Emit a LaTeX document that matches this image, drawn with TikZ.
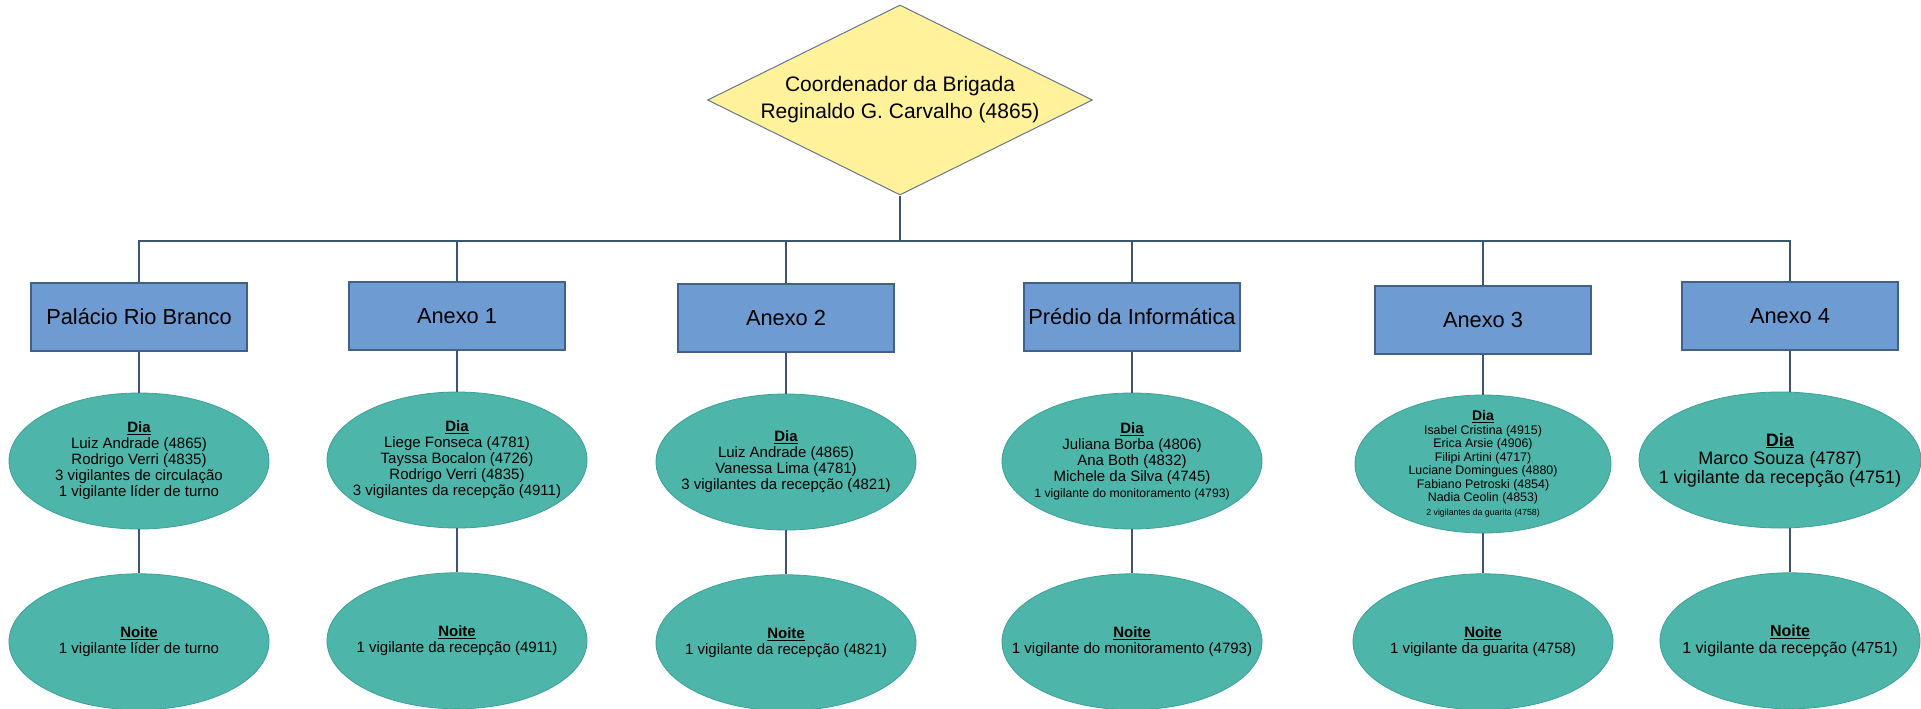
\documentclass[tikz,border=0pt]{standalone}
\usepackage{fontspec}
\setmainfont{Liberation Sans}
\usetikzlibrary{shapes.geometric,positioning}
\definecolor{amarelo}{RGB}{255,242,155}
\definecolor{azul}{RGB}{110,155,209}
\definecolor{azulborda}{RGB}{65,96,138}
\definecolor{verde}{RGB}{77,181,169}
\definecolor{verdeborda}{RGB}{62,160,150}
\definecolor{linha}{RGB}{61,85,115}
\tikzstyle{chefe} = [draw=linha!80,line width=1pt,fill=amarelo,diamond,aspect=2.03,inner sep=0,minimum width=385pt,minimum height=190pt,align=center,font=\fontsize{21}{27}\selectfont]
\tikzstyle{predio} = [draw=azulborda,line width=1.2pt,fill=azul,rectangle,inner sep=0,minimum width=216pt,minimum height=68pt,font=\fontsize{21.8}{25}\selectfont]
\tikzstyle{turno} = [draw=verdeborda,line width=0.8pt,fill=verde,ellipse,inner xsep=-60pt,inner ysep=-15pt,minimum width=260pt,minimum height=136pt,align=center,font=\fontsize{15}{16}\selectfont]
\tikzstyle{ramo} = [-,draw=linha,line width=1.2pt]
\def \tu {41pt}
\newcommand{\dia}{\underline{\textbf{Dia}}}
\newcommand{\noite}{\underline{\textbf{Noite}}}

\begin{document}
\begin{tikzpicture}[x=1pt,y=-1pt,node distance=\tu]
  \useasboundingbox (0,0) rectangle (1921,709);
  \node[chefe] (coord) at (900,100) {Coordenador da Brigada\\Reginaldo G. Carvalho (4865)};
  \coordinate (bus) at (900,241);
  % predios
  \node[predio] (pal) at (139,317) {Palácio Rio Branco};
  \node[predio] (an1) at (457,316) {Anexo 1};
  \node[predio] (an2) at (786,318) {Anexo 2};
  \node[predio] (pre) at (1132,317) {Prédio da Informática};
  \node[predio] (an3) at (1483,320) {Anexo 3};
  \node[predio] (an4) at (1790,316) {Anexo 4};
  % turnos
  \node[turno,below=of pal] (pal-dia) {\dia\\Luiz Andrade (4865)\\Rodrigo Verri (4835)\\3 vigilantes de circulação\\1 vigilante líder de turno};
  \node[turno,below=44pt of pal-dia] (pal-noite) {\noite\\1 vigilante líder de turno};
  \node[turno,below=of an1] (an1-dia) {\dia\\Liege Fonseca (4781)\\Tayssa Bocalon (4726)\\Rodrigo Verri (4835)\\3 vigilantes da recepção (4911)};
  \node[turno,below=44pt of an1-dia] (an1-noite) {\noite\\1 vigilante da recepção (4911)};
  \node[turno,below=of an2] (an2-dia) {\dia\\Luiz Andrade (4865)\\Vanessa Lima (4781)\\3 vigilantes da recepção (4821)};
  \node[turno,below=44pt of an2-dia] (an2-noite) {\noite\\1 vigilante da recepção (4821)};
  \node[turno,below=of pre] (pre-dia) {\dia\\Juliana Borba (4806)\\Ana Both (4832)\\Michele da Silva (4745)\\{\fontsize{12.2}{13}\selectfont 1 vigilante do monitoramento (4793)}};
  \node[turno,below=44pt of pre-dia] (pre-noite) {\noite\\1 vigilante do monitoramento (4793)};
  \node[turno,below=40pt of an3,minimum width=256pt,minimum height=138pt,font=\fontsize{12.4}{13.5}\selectfont] (an3-dia) {{\fontsize{14}{15}\selectfont\dia}\\Isabel Cristina (4915)\\Erica Arsie (4906)\\Filipi Artini (4717)\\Luciane Domingues (4880)\\Fabiano Petroski (4854)\\Nadia Ceolin (4853)\\{\fontsize{8.8}{9}\selectfont 2 vigilantes da guarita (4758)}};
  \node[turno,below=40pt of an3-dia] (an3-noite) {\noite\\1 vigilante da guarita (4758)};
  \node[turno,below=of an4,xshift=-10pt,minimum width=282pt,font=\fontsize{18}{18.5}\selectfont] (an4-dia) {\dia\\Marco Souza (4787)\\1 vigilante da recepção (4751)};
  \node[turno,below=44pt of an4-dia,xshift=10pt,font=\fontsize{16}{17}\selectfont] (an4-noite) {\noite\\1 vigilante da recepção (4751)};
  % ligacoes
  \draw[ramo] (coord.south) -- (bus);
  \foreach \b in {pal,an1,an2,pre,an3,an4} {
    \draw[ramo] (bus) -| (\b.north);
    \draw[ramo] (\b.south) -- (\b.south |- \b-dia.north);
    \draw[ramo] (\b-noite.north |- \b-dia.south) -- (\b-noite.north);
  }
\end{tikzpicture}
\end{document}
